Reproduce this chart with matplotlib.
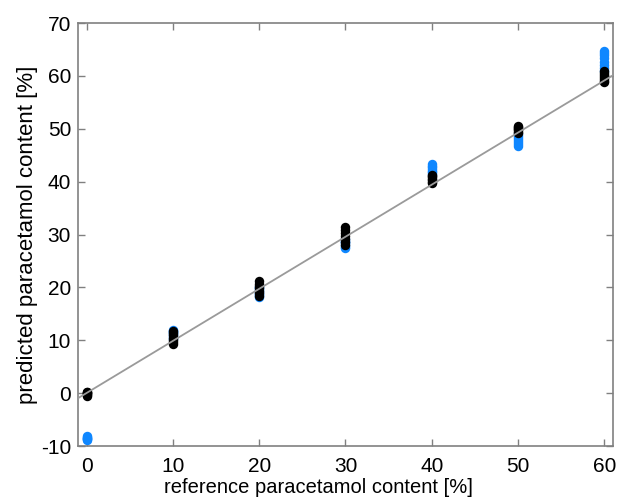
import matplotlib
matplotlib.use("Agg")
import matplotlib.pyplot as plt
import numpy as np

plt.rcParams['font.family'] = ['Liberation Sans', 'DejaVu Sans']
plt.rcParams['axes.unicode_minus'] = False

levels = [0, 10, 20, 30, 40, 50, 60]

blue_values = [
    [-8.1, -8.25, -8.4, -8.5, -8.6, -8.7, -8.8],
    [10.2, 10.6, 11.0, 11.3, 11.6, 11.8, 12.0],
    [18.2, 18.5, 18.8, 19.1, 19.5, 19.8, 20.1],
    [27.4, 27.7, 28.0, 28.3, 28.6, 28.8, 29.1],
    [41.5, 41.8, 42.1, 42.4, 42.7, 43.0, 43.3],
    [46.7, 47.1, 47.5, 47.9, 48.3, 48.7, 49.1],
    [60.9, 61.5, 62.1, 62.7, 63.3, 63.9, 64.3, 64.7],
]

black_values = [
    [-0.5, -0.35, -0.2, -0.05, 0.1, 0.2, 0.3],
    [9.3, 9.7, 10.1, 10.5, 10.9, 11.3, 11.7],
    [18.4, 18.9, 19.3, 19.8, 20.3, 20.7, 21.2],
    [28.0, 28.5, 29.1, 29.7, 30.3, 30.9, 31.4],
    [39.7, 40.0, 40.3, 40.5, 40.8, 41.0, 41.25],
    [49.2, 49.4, 49.7, 49.9, 50.1, 50.4, 50.6],
    [58.8, 59.1, 59.5, 59.8, 60.2, 60.6, 60.9],
]

fit_intercept = 0.03
fit_slope = 0.985
fit_x = [-1, 61]

xticks = [0, 10, 20, 30, 40, 50, 60]
yticks = [-10, 0, 10, 20, 30, 40, 50, 60, 70]

fig = plt.figure(figsize=(6.2, 4.99), dpi=100)
ax = fig.add_axes([0.1258, 0.1062, 0.8629, 0.8477])

fx = np.array(fit_x, dtype=float)

for lv, vals in zip(levels, blue_values):
    ax.plot([lv] * len(vals), vals, 'o', color='#0f87ff', ms=6.8, mew=0, zorder=2)
for lv, vals in zip(levels, black_values):
    ax.plot([lv] * len(vals), vals, 'o', color='black', ms=6.8, mew=0, zorder=3)
ax.plot(fx, fit_intercept + fit_slope * fx, color='#9a9a9a', lw=1.3, zorder=4)

ax.set_xlim(-1, 61)
ax.set_ylim(-10, 70)
ax.set_xticks(xticks)
ax.set_yticks(yticks)
ax.tick_params(direction='in', top=True, right=True, length=5, width=1,
               color='#808080', labelsize=15)
ax.tick_params(axis='x', pad=8)
ax.tick_params(axis='y', pad=5)
for s in ax.spines.values():
    s.set_color('#808080')
    s.set_linewidth(1.2)

ax.set_xlabel('reference paracetamol content [%]', fontsize=14.5)
ax.set_ylabel('predicted paracetamol content [%]', fontsize=16, labelpad=2)
ax.xaxis.set_label_coords(0.449, -0.099, transform=ax.transAxes)
ax.xaxis.label.set_va('center')

fig.savefig('out.png', dpi=100)
